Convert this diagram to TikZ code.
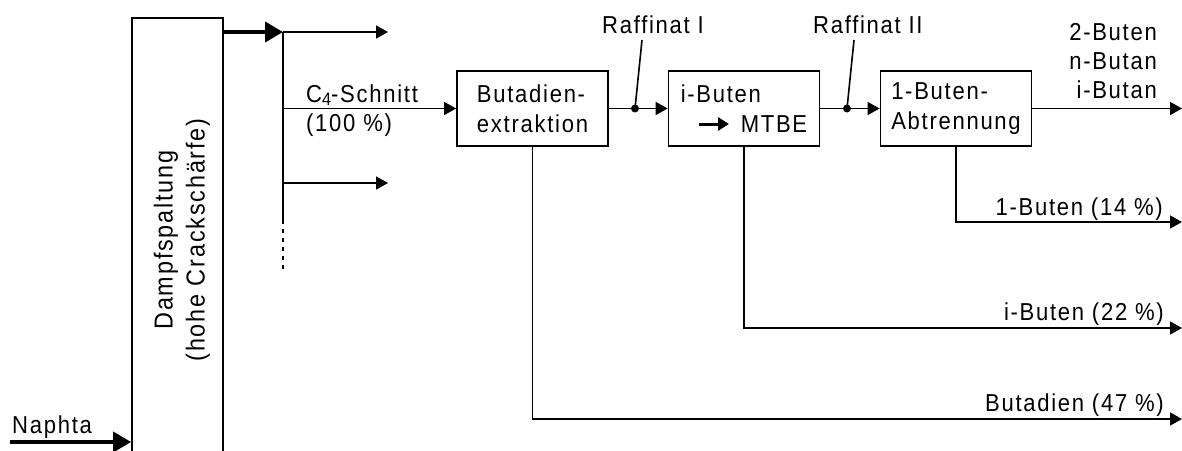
\documentclass[tikz,border=0pt]{standalone}
\usepackage{fontspec}
\setmainfont[LetterSpace=7,FakeStretch=0.9]{Liberation Sans}
\usetikzlibrary{arrows.meta}
\begin{document}
\begin{tikzpicture}[x=1pt,y=-1pt,
  font=\fontsize{24.5}{30}\selectfont,
  line/.style={line width=1.6pt},
  arr/.style={line, -{Triangle[length=12pt,width=13pt]}},
  thickarr/.style={line width=4pt, -{Triangle[length=18pt,width=20pt]}},
  procbox/.style={draw, line width=1.8pt, minimum width=151pt, minimum height=75pt, align=left, inner sep=0pt},
  lbl/.style={inner sep=0pt},
  dot/.style={circle, fill, inner sep=0pt, minimum size=8pt},
]
\useasboundingbox (0,0) rectangle (1182,450);

% Dampfspaltung
\node[draw, line width=1.8pt, minimum width=91pt, minimum height=460pt, inner sep=0pt] (D) at (177.5,248) {};
\node[lbl, rotate=90, align=center, font=\fontsize{26}{32}\selectfont] (Dt) at (182,240) {Dampfspaltung\\(hohe Crackschärfe)};

% Naphta
\coordinate (N0) at (10,442);
\node[lbl, anchor=base west] (Nt) at (12,433) {Naphta};
\draw[thickarr] (N0) -- (N0 -| D.west);

% split
\coordinate (S) at (283,32);
\coordinate (S2) at (283,108.5);
\coordinate (S3) at (283,183);
\coordinate (Sd) at (283,220);
\coordinate (Se) at (283,273);
\coordinate (T1) at (388,32);
\coordinate (T3) at (388,183);
\draw[thickarr] (D.east |- S) -- (S);
\draw[line] (S) -- (Sd);
\draw[line, dash pattern=on 4pt off 5pt] (Sd) -- (Se);
\draw[arr] (S) -- (T1);
\draw[arr] (S3) -- (T3);

% boxes
\node[procbox] (B) at (532.5,108.5) {Butadien-\\extraktion};
\node[procbox] (I) at (744,108.5) {i-Buten\\\hspace*{60pt}MTBE};
\node[procbox] (A) at (956,108.5) {1-Buten-\\Abtrennung};
\coordinate (M0) at (699,124);
\coordinate (M1) at (729,124);
\draw[line width=3pt, -{Triangle[length=11pt,width=13pt]}] (M0) -- (M1);

% C4 label
\node[lbl, anchor=base west] (C4) at (306,102) {C\raisebox{-3pt}{\fontsize{18}{18}\selectfont 4}-Schnitt};
\node[lbl, anchor=base west] (C4b) at (306,131) {(100 \%)};
\draw[arr] (S2) -- (B.west);

% Raffinat I
\draw[arr] (B.east) -- (I.west);
\node[dot] (R1) at (635,108.5) {};
\node[lbl, anchor=base west] (R1t) at (602,33) {Raffinat I};
\coordinate (L1) at (642,40);
\draw[line] (R1.center) -- (L1);

% Raffinat II
\draw[arr] (I.east) -- (A.west);
\node[dot] (R2) at (847,108.5) {};
\node[lbl, anchor=base west] (R2t) at (813,33) {Raffinat II};
\coordinate (L2) at (854,40);
\draw[line] (R2.center) -- (L2);

% outputs
\coordinate (O1) at (1182,108.5);
\draw[arr] (A.east) -- (O1);
\node[lbl, anchor=south east, align=right, font=\fontsize{24.5}{29}\selectfont] (O1t) at (1157,99) {2-Buten\\n-Butan\\i-Butan};

\coordinate (K2) at (956,222);
\coordinate (O2) at (1182,222);
\draw[arr] (A.south) -- (K2) -- (O2);
\node[lbl, anchor=base east] (O2t) at (1163,215) {1-Buten (14 \%)};

\coordinate (K3) at (744,328);
\coordinate (O3) at (1182,328);
\draw[arr] (I.south) -- (K3) -- (O3);
\node[lbl, anchor=base east] (O3t) at (1164,320) {i-Buten (22 \%)};

\coordinate (K4) at (532.5,419);
\coordinate (O4) at (1182,419);
\draw[arr] (B.south) -- (K4) -- (O4);
\node[lbl, anchor=base east] (O4t) at (1164,411) {Butadien (47 \%)};
\end{tikzpicture}
\end{document}
